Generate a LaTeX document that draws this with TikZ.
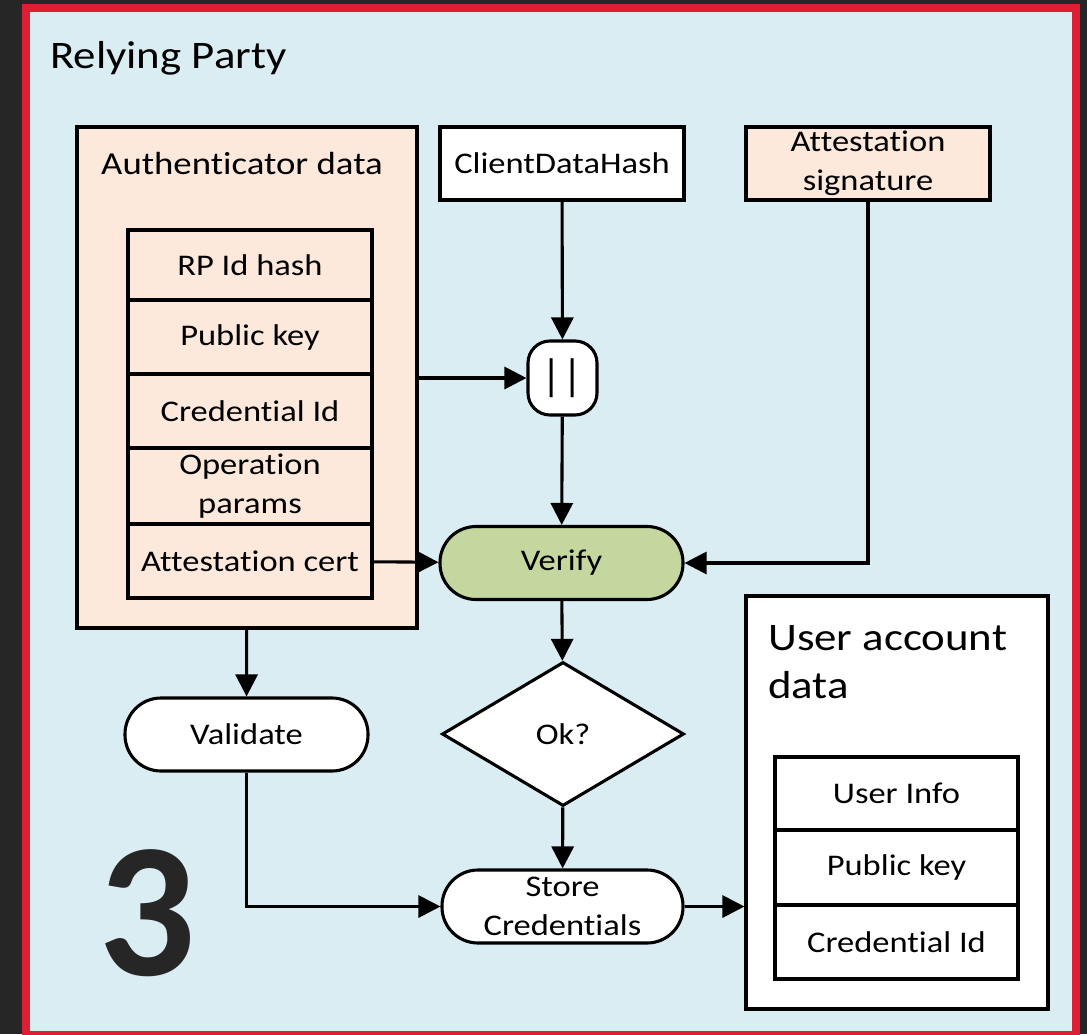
\documentclass[tikz,border=0pt]{standalone}
\usepackage{fontspec}
\setmainfont{Carlito}[FakeStretch=1.15, Ligatures=NoCommon]
\newfontfamily\digitfont{Carlito}[Ligatures=NoCommon]
\usetikzlibrary{arrows.meta,shapes.geometric}
\definecolor{frameDark}{HTML}{262626}
\definecolor{frameRed}{HTML}{DC1F35}
\definecolor{rpBlue}{HTML}{DAEDF3}
\definecolor{peach}{HTML}{FCE9DC}
\definecolor{okGreen}{HTML}{C4D79F}
\tikzset{
  base/.style={draw=black, line width=3.1pt, inner sep=0pt, align=center,
    font=\fontsize{30}{39}\selectfont},
  cell/.style={base, minimum width=244pt},
  stadium/.style={base, fill=white, rounded corners=36pt,
    minimum width=243pt, minimum height=73pt},
  flow/.style={line width=3.1pt, -{Triangle[length=22pt 0 0, width=22pt 0 0]}},
  heading/.style={inner sep=0pt, font=\fontsize{39}{48}\selectfont},
}
\begin{document}
\begin{tikzpicture}[x=1pt, y=-1pt]
\useasboundingbox (0,0) rectangle (1087,1034);
% frame
\fill[frameDark] (0,0) rectangle (1087,1034);
\fill[frameRed] (22,4) rectangle (1080,1040);
\fill[rpBlue] (30,12) rectangle (1072,1031);

\node[heading, anchor=base west] (rptitle) at (50,68) {Relying Party};
\node[anchor=base, inner sep=0pt, text=frameDark,
  font=\fontsize{192}{192}\digitfont\bfseries] (step) at (147,975) {3};

% authenticator data
\node[base, fill=peach, minimum width=340pt, minimum height=501pt]
  (auth) at (247,377.5) {};
\node[anchor=base, inner sep=0pt, font=\fontsize{32}{39}\selectfont]
  (authtitle) at (242,174) {Authenticator data};
\node[cell, fill=peach, minimum height=70pt] (rpid) at (250,265) {RP Id hash};
\node[cell, fill=peach, minimum height=74pt] (pk) at (250,337) {Public key};
\node[cell, fill=peach, minimum height=74pt] (cid) at (250,411) {Credential Id};
\node[cell, fill=peach, minimum height=76pt] (op) at (250,486) {Operation\\params};
\node[cell, fill=peach, minimum height=74pt] (acert) at (250,561) {Attestation cert};

% inputs
\node[cell, fill=white, minimum height=73pt] (cdh) at (562,163.5) {ClientDataHash};
\node[cell, fill=peach, minimum height=73pt] (asig) at (868,163.5) {Attestation\\signature};

% processing
\node[base, fill=white, rounded corners=22pt, minimum width=69pt,
  minimum height=74pt, font=\fontsize{44}{44}\digitfont] (cat) at (562.5,378)
  {|\hspace{1pt}|};
\node[stadium, fill=okGreen] (verify) at (561.5,563) {Verify};
\node[base, fill=white, diamond, minimum width=242pt, minimum height=144pt]
  (ok) at (563,734) {Ok?};
\node[stadium] (validate) at (246.5,734.5) {Validate};
\node[stadium, minimum width=241pt] (store) at (562.5,906.5) {Store\\Credentials};

% user account data
\node[base, fill=white, minimum width=302pt, minimum height=413pt]
  (user) at (897,802.5) {};
\node[heading, anchor=base west, align=left] (usertitle) at (768,698)
  {User account\\data};
\node[cell, fill=white, minimum width=243pt, minimum height=73pt] (uinfo) at (896.5,793.5) {User Info};
\node[cell, fill=white, minimum width=243pt, minimum height=75pt] (upk) at (896.5,867.5) {Public key};
\node[cell, fill=white, minimum width=243pt, minimum height=74pt] (ucid) at (896.5,942) {Credential Id};

% connectors
\draw[flow] (cdh) -- (cat);
\draw[flow] (auth.east |- cat) -- (cat);
\draw[flow] (cat) -- (verify);
\draw[flow] (acert) -- (verify);
\draw[flow] (asig.south) |- (verify.east);
\draw[flow] (verify) -- (ok);
\draw[flow] (ok) -- (store);
\draw[flow] (auth) -- (validate);
\draw[flow] (validate.south) |- (store.west);
\draw[flow] (store) -- (user.west |- store);
\end{tikzpicture}
\end{document}
